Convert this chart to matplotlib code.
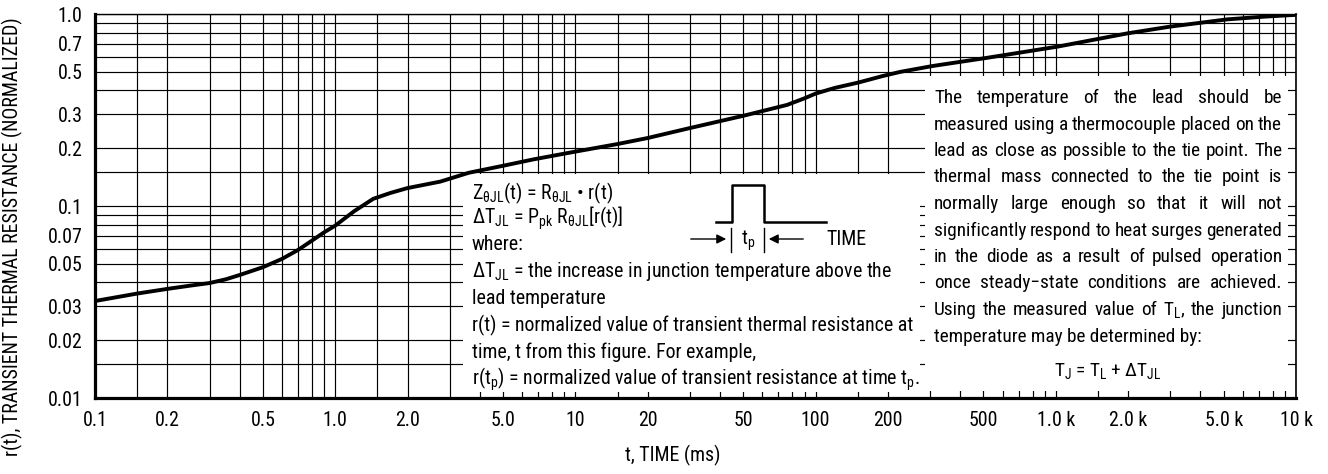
import matplotlib
matplotlib.use("Agg")
import matplotlib.pyplot as plt
from matplotlib.patches import Rectangle, FancyArrowPatch
from matplotlib.lines import Line2D
from matplotlib.ticker import FixedLocator, NullFormatter
from matplotlib import font_manager as fm

# ---- pick a narrow sans font if one is installed ----
names = {f.name for f in fm.fontManager.ttflist}
FAM, STRETCH, SCALE = None, 'normal', 1.0
for cand in ['Liberation Sans Narrow', 'Arial Narrow', 'Roboto Condensed',
             'Noto Sans Condensed', 'Open Sans Condensed']:
    if cand in names:
        FAM = cand
        break
if FAM is None:
    for f in fm.fontManager.ttflist:
        if f.name in ('Roboto', 'Noto Sans', 'Open Sans', 'DejaVu Sans') and \
                str(f.stretch) in ('condensed', 'semi-condensed') and \
                str(f.style) == 'normal' and f.weight in (400, 'normal', 'regular'):
            FAM, STRETCH = f.name, str(f.stretch)
            break
if FAM is None:
    FAM, SCALE = 'Liberation Sans', 0.9

plt.rcParams['font.family'] = [FAM, 'Liberation Sans', 'DejaVu Sans']
plt.rcParams['font.stretch'] = STRETCH
plt.rcParams['mathtext.fontset'] = 'custom'
plt.rcParams['mathtext.rm'] = FAM
plt.rcParams['mathtext.it'] = FAM
plt.rcParams['mathtext.bf'] = FAM + ':bold'

# ---- data ----
t_ms = [0.1, 0.15, 0.2, 0.25, 0.3, 0.35, 0.4, 0.5, 0.6, 0.7, 0.8, 0.9, 1.0, 1.2, 1.44, 1.7,
        2.0, 2.74, 3.6, 5.0, 6.7, 10.0, 14.9, 20.0, 29.7, 50.0, 76.0, 90.0, 100.0, 120.0,
        150.0, 190.0, 226.0, 307.0, 503.0, 1016.0, 1990.0, 3000.0, 5190.0, 7500.0, 10000.0]
r_norm = [0.032, 0.035, 0.037, 0.0385, 0.0397, 0.0415, 0.0437, 0.048, 0.053, 0.059, 0.066,
          0.073, 0.079, 0.094, 0.109, 0.117, 0.124, 0.134, 0.149, 0.162, 0.175, 0.192,
          0.210, 0.226, 0.254, 0.295, 0.336, 0.364, 0.385, 0.412, 0.439, 0.475, 0.500,
          0.536, 0.588, 0.676, 0.793, 0.86, 0.938, 0.97, 0.99]

x_tick_vals = [0.1, 0.2, 0.5, 1.0, 2.0, 5.0, 10, 20, 50, 100, 200, 500, 1000, 2000, 5000, 10000]
x_tick_labels = ['0.1', '0.2', '0.5', '1.0', '2.0', '5.0', '10', '20', '50', '100', '200',
                 '500', '1.0 k', '2.0 k', '5.0 k', '10 k']
y_tick_vals = [1.0, 0.7, 0.5, 0.3, 0.2, 0.1, 0.07, 0.05, 0.03, 0.02, 0.01]
y_tick_labels = ['1.0', '0.7', '0.5', '0.3', '0.2', '0.1', '0.07', '0.05', '0.03', '0.02', '0.01']
grid_mult = [1, 1.5, 2, 3, 4, 5, 6, 7, 8, 9]

x_label = 't, TIME (ms)'
y_label = 'r(t), TRANSIENT THERMAL RESISTANCE (NORMALIZED)'

mid_lines = [
    r'Z$_{\mathrm{θJL}}$(t) = R$_{\mathrm{θJL}}$ • r(t)',
    r'ΔT$_{\mathrm{JL}}$ = P$_{\mathrm{pk}}$ R$_{\mathrm{θJL}}$[r(t)]',
    'where:',
    r'ΔT$_{\mathrm{JL}}$ = the increase in junction temperature above the',
    'lead temperature',
    'r(t) = normalized value of transient thermal resistance at',
    'time, t from this figure. For example,',
    r'r(t$_{\mathrm{p}}$) = normalized value of transient resistance at time t$_{\mathrm{p}}$.',
]
right_lines = [
    'The temperature of the lead should be',
    'measured using a thermocouple placed on the',
    'lead as close as possible to the tie point. The',
    'thermal mass connected to the tie point is',
    'normally large enough so that it will not',
    'significantly respond to heat surges generated',
    'in the diode as a result of pulsed operation',
    'once steady−state conditions are achieved.',
    r'Using the measured value of T$_{\mathrm{L}}$, the junction',
    'temperature may be determined by:',
]
formula = r'T$_{\mathrm{J}}$ = T$_{\mathrm{L}}$ + ΔT$_{\mathrm{JL}}$'

W, H = 1328, 474
fig = plt.figure(figsize=(W / 100, H / 100), dpi=100)

def px(x, y):
    return (x / W, 1 - y / H)

FS = 14.3 * SCALE
FSR = 13.9 * SCALE

L, R, T, B = 95, 1296, 14, 398
ax = fig.add_axes([L / W, 1 - B / H, (R - L) / W, (B - T) / H])
ax.set_xscale('log')
ax.set_yscale('log')
ax.set_xlim(0.1, 10000)
ax.set_ylim(0.01, 1.0)

xg = [m * 10 ** e for e in range(-1, 4) for m in grid_mult] + [10000]
yg = [m * 10 ** e for e in range(-2, 0) for m in grid_mult] + [1.0]
ax.xaxis.set_major_locator(FixedLocator(x_tick_vals))
ax.xaxis.set_minor_locator(FixedLocator(xg))
ax.yaxis.set_major_locator(FixedLocator(y_tick_vals))
ax.yaxis.set_minor_locator(FixedLocator(yg))
ax.xaxis.set_minor_formatter(NullFormatter())
ax.yaxis.set_minor_formatter(NullFormatter())
ax.set_xticklabels(x_tick_labels)
ax.set_yticklabels(y_tick_labels)
ax.tick_params(which='both', length=0)
ax.tick_params(axis='x', pad=9, labelsize=FS)
ax.tick_params(axis='y', pad=9, labelsize=FS)
ax.grid(True, which='both', color='black', linewidth=0.85)
ax.set_axisbelow(True)

for s, lw in [('left', 2.3), ('bottom', 2.3), ('top', 1.0), ('right', 1.2)]:
    ax.spines[s].set_linewidth(lw)
    ax.spines[s].set_color('black')

# white text panels covering the grid
for (x0, y0, x1, y1) in [(463, 174, 920, 392), (925, 76, 1288, 391)]:
    ax.add_patch(Rectangle(px(x0, y1), (x1 - x0) / W, (y1 - y0) / H,
                           transform=fig.transFigure, facecolor='white',
                           edgecolor='none', zorder=1))

ax.plot(t_ms, r_norm, color='black', linewidth=2.8, zorder=3,
        solid_joinstyle='round', solid_capstyle='butt')

fig.text(*px(12, 237), y_label, rotation=90, ha='center', va='center', fontsize=FS)
fig.text(*px(673, 455), x_label, ha='center', va='center', fontsize=FS)

mid_base = [199, 224, 250, 277, 304, 331, 358, 385]
for s, yb in zip(mid_lines, mid_base):
    fig.text(*px(472, yb), s, ha='left', va='baseline', fontsize=FS, zorder=5)

# pulse sketch
def seg(xs, ys, lw=1.8):
    fig.add_artist(Line2D([x / W for x in xs], [1 - y / H for y in ys],
                          color='black', linewidth=lw, transform=fig.transFigure,
                          zorder=5))

seg([716, 732, 732, 764, 764, 826], [222, 222, 185, 185, 222, 222])
seg([731, 731], [228, 252], lw=1.0)
seg([764, 764], [228, 252], lw=1.0)
fig.add_artist(FancyArrowPatch(px(688, 239), px(729, 239), transform=fig.transFigure,
                               arrowstyle='-|>', mutation_scale=14, color='black',
                               linewidth=1.0, zorder=5))
fig.add_artist(FancyArrowPatch(px(806, 239), px(766, 239), transform=fig.transFigure,
                               arrowstyle='-|>', mutation_scale=14, color='black',
                               linewidth=1.0, zorder=5))
fig.text(*px(748, 245), r't$_{\mathrm{p}}$', ha='center', va='baseline', fontsize=FS, zorder=5)
fig.text(*px(826, 245), 'TIME', ha='left', va='baseline', fontsize=FS, zorder=5)

# justified right panel
fig.canvas.draw()
rend = fig.canvas.get_renderer()
right_base = [103, 129.5, 156, 182.5, 209, 235.5, 262, 288.5, 315, 341.5]
X0, X1 = 934, 1282
for i, (s, yb) in enumerate(zip(right_lines, right_base)):
    if i == len(right_lines) - 1:
        fig.text(*px(X0, yb), s, ha='left', va='baseline', fontsize=FSR, zorder=5)
        continue
    words = s.split(' ')
    objs = [fig.text(0, 0, w, ha='left', va='baseline', fontsize=FSR, zorder=5) for w in words]
    widths = [o.get_window_extent(rend).width for o in objs]
    gap = max((X1 - X0 - sum(widths)) / (len(words) - 1), 2.5)
    x = X0
    for o, w in zip(objs, widths):
        o.set_position(px(x, yb))
        x += w + gap
fig.text(*px(1108, 376), formula, ha='center', va='baseline', fontsize=FSR, zorder=5)

fig.savefig('out.png', dpi=100)
